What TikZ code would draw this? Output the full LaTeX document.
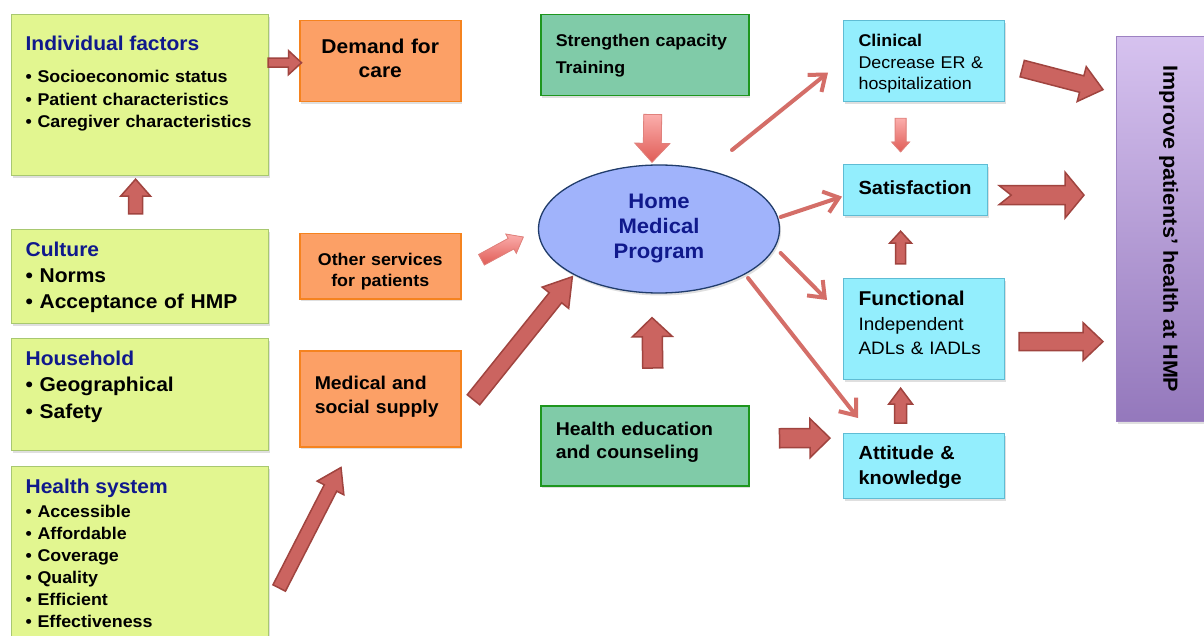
\documentclass[tikz,border=0pt]{standalone}
\usepackage{fontspec}
\setmainfont[FakeStretch=1.05]{Liberation Sans}
\usepackage{graphicx}
\usetikzlibrary{arrows.meta,calc,shapes.geometric,shadows}
\hyphenpenalty=10000
\exhyphenpenalty=10000
\definecolor{factorfill}{HTML}{E2F690}
\definecolor{factorstroke}{HTML}{A8C870}
\definecolor{headblue}{HTML}{10198C}
\definecolor{supplyfill}{HTML}{FCA066}
\definecolor{supplystroke}{HTML}{F5831F}
\definecolor{programfill}{HTML}{80CBA8}
\definecolor{programstroke}{HTML}{1E961E}
\definecolor{outcomefill}{HTML}{93EEFD}
\definecolor{outcomestroke}{HTML}{5FBCD4}
\definecolor{hmpfill}{HTML}{A0B3FB}
\definecolor{hmpstroke}{HTML}{203C6B}
\definecolor{goaltop}{HTML}{D6C2EF}
\definecolor{goalbottom}{HTML}{9478BC}
\definecolor{goalstroke}{HTML}{9D82C2}
\definecolor{arrowfill}{HTML}{CB6460}
\definecolor{arrowstroke}{HTML}{A0443F}
\definecolor{softtop}{HTML}{FBAEAC}
\definecolor{softbottom}{HTML}{E05C56}
\definecolor{softstroke}{HTML}{E0817C}
\definecolor{linkred}{HTML}{D46E68}
\tikzset{
  boxshadow/.style={drop shadow={shadow xshift=1.5pt, shadow yshift=-2.5pt, opacity=0.25}},
  factor/.style={
    rectangle, draw=factorstroke, fill=factorfill, line width=1.2pt, boxshadow,
    anchor=north west, align=left, inner xsep=14pt, inner ysep=0pt, text width=229pt,
    font=\bfseries\fontsize{20}{26}\selectfont
  },
  supply/.style={
    rectangle, draw=supplystroke, fill=supplyfill, line width=1.5pt, boxshadow,
    anchor=north west, inner xsep=8pt, inner ysep=0pt, text width=145pt,
    font=\bfseries
  },
  program/.style={
    rectangle, draw=programstroke, fill=programfill, line width=1.5pt, boxshadow,
    anchor=north west, align=left, inner xsep=15pt, inner ysep=0pt, text width=178pt,
    font=\bfseries
  },
  outcome/.style={
    rectangle, draw=outcomestroke, fill=outcomefill, line width=1.2pt, boxshadow,
    anchor=north west, align=left, inner xsep=15pt, inner ysep=0pt, text width=131pt,
    font=\bfseries
  },
  hmpnode/.style={
    ellipse, draw=hmpstroke, fill=hmpfill, line width=1.3pt, boxshadow,
    minimum width=241pt, minimum height=128pt, align=center, text=headblue,
    font=\bfseries\fontsize{21}{25}\selectfont
  },
  goal/.style={
    rectangle, draw=goalstroke, top color=goaltop, bottom color=goalbottom,
    line width=1.2pt, boxshadow, anchor=north west,
    minimum width=104pt, minimum height=385pt, font=\bfseries\fontsize{20.5}{24}\selectfont
  },
  blockarrow/.style={fill=arrowfill, draw=arrowstroke, line width=1.5pt, line join=miter},
  softarrow/.style={top color=softtop, bottom color=softbottom, draw=softstroke, line width=0.8pt},
  link/.style={
    draw=linkred, line width=4pt, line cap=round,
    -{Straight Barb[length=14pt,width=22pt]}
  }
}
\newcommand{\factorhead}[1]{{\color{headblue}\fontsize{20}{24}\selectfont #1}}
% block arrow: [style]{tail}{tip}{half shaft}{half head}{head length}
\newcommand{\blockarrow}[6][]{%
  \path (#2) coordinate (ba-tail) (#3) coordinate (ba-tip);
  \coordinate (ba-neck) at ($(ba-tip)!#6!(ba-tail)$);
  \draw[blockarrow,#1] ($(ba-tail)!#4!90:(ba-tip)$) -- ($(ba-neck)!#4!90:(ba-tip)$)
    -- ($(ba-neck)!#5!90:(ba-tip)$) -- (ba-tip) -- ($(ba-neck)!#5!-90:(ba-tip)$)
    -- ($(ba-neck)!#4!-90:(ba-tip)$) -- ($(ba-tail)!#4!-90:(ba-tip)$) -- cycle;
}
% same, with a notch cut into the tail
\newcommand{\notchedarrow}[7][]{%
  \path (#2) coordinate (ba-tail) (#3) coordinate (ba-tip);
  \coordinate (ba-neck) at ($(ba-tip)!#6!(ba-tail)$);
  \draw[blockarrow,#1] ($(ba-tail)!#4!90:(ba-tip)$) -- ($(ba-neck)!#4!90:(ba-tip)$)
    -- ($(ba-neck)!#5!90:(ba-tip)$) -- (ba-tip) -- ($(ba-neck)!#5!-90:(ba-tip)$)
    -- ($(ba-neck)!#4!-90:(ba-tip)$) -- ($(ba-tail)!#4!-90:(ba-tip)$)
    -- ($(ba-tail)!#7!(ba-tip)$) -- cycle;
}

\begin{document}
\begin{tikzpicture}[x=1pt,y=-1pt]
  \useasboundingbox (0,0) rectangle (1204,636);
  \fill[white] (0,0) rectangle (1204,636);

  % Determinants
  \node[factor, text height=36pt, text depth=125pt,
        font=\bfseries\fontsize{17}{22.5}\selectfont] (indiv) at (11,14)
    {\factorhead{Individual factors}\\[9.5pt]
     • Socioeconomic status\\
     • Patient characteristics\\
     • Caregiver characteristics};
  \node[factor, text height=27pt, text depth=67pt] (culture) at (11,229)
    {\factorhead{Culture}\\
     • Norms\\
     • Acceptance of HMP};
  \node[factor, text height=27pt, text depth=85pt] (household) at (11,338)
    {\factorhead{Household}\\
     • Geographical\\[1pt]
     • Safety};
  \node[factor, text height=27pt, text depth=148pt,
        font=\bfseries\fontsize{17}{22}\selectfont] (healthsys) at (11,466)
    {\factorhead{Health system}\\[2pt]
     • Accessible\\
     • Affordable\\
     • Coverage\\
     • Quality\\
     • Efficient\\
     • Effectiveness};

  % Demand and supply
  \node[supply, align=center, text height=33pt, text depth=48pt,
        font=\bfseries\fontsize{20}{24}\selectfont] (demand) at (299,20)
    {Demand for\\care};
  \node[supply, align=center, text height=32pt, text depth=33pt,
        font=\bfseries\fontsize{17}{21}\selectfont] (others) at (299,233)
    {Other services\\for patients};
  \node[supply, align=left, inner xsep=15pt, text width=131pt, text height=39pt, text depth=57pt,
        font=\bfseries\fontsize{18.5}{24}\selectfont] (medsupply) at (299,350)
    {Medical and\\social supply};

  % Programme
  \node[program, text height=32pt, text depth=49pt,
        font=\bfseries\fontsize{17}{27}\selectfont] (strength) at (540,14)
    {Strengthen capacity\\Training};
  \node[program, text height=30pt, text depth=50pt,
        font=\bfseries\fontsize{18.5}{23}\selectfont] (healthed) at (540,405)
    {Health education\\and counseling};
  \node[hmpnode] (hmp) at (659,229) {Home\\Medical\\Program};

  % Outcomes
  \node[outcome, text height=26pt, text depth=55pt,
        font=\fontsize{17}{21.5}\selectfont] (clinical) at (843,20)
    {\textbf{Clinical}\\Decrease ER \&\\hospitalization};
  \node[outcome, text width=114pt, text height=30pt, text depth=21pt,
        font=\bfseries\fontsize{19}{23}\selectfont] (satisf) at (843,164)
    {Satisfaction};
  \node[outcome, text height=27pt, text depth=74pt,
        font=\fontsize{18}{24}\selectfont] (functional) at (843,278)
    {{\bfseries\fontsize{20}{24}\selectfont Functional}\\[1pt]
     Independent\\ADLs \& IADLs};
  \node[outcome, text height=26pt, text depth=39pt,
        font=\bfseries\fontsize{19}{25}\selectfont] (attitude) at (843,433)
    {Attitude \&\\knowledge};
  \node[goal] (improve) at (1116,36)
    {\rotatebox{-90}{Improve patients’ health at HMP}};

  % Block arrows between the boxes
  \blockarrow{$(indiv.east)+(-1,-32.5)$}{$(demand.west)+(2.5,1.5)$}{4.5pt}{12pt}{13pt}
  \blockarrow{$(culture.north)+(-4.5,-15)$}{$(indiv.south)+(-4.5,3)$}{7pt}{15pt}{17pt}
  \blockarrow{$(healthsys.north east)+(10,122)$}{$(medsupply.south west)+(42,20)$}{7pt}{15pt}{23pt}
  \blockarrow{$(medsupply.east)+(12,1)$}{$(hmp.south west)+(-1,2)$}{8pt}{17pt}{27pt}
  \blockarrow[softarrow]{$(others.east)+(20,-6.5)$}{$(hmp.west)+(-14.5,8)$}{6pt}{11pt}{14pt}
  \blockarrow[softarrow]{$(strength.south)+(8,18)$}{$(hmp.north)+(-7,-2)$}{9pt}{17.5pt}{19pt}
  \blockarrow{$(healthed.north)+(8,-37)$}{$(hmp.south)+(-7,24)$}{10pt}{20pt}{19pt}
  \blockarrow{$(healthed.east)+(30,-7.5)$}{$(attitude.west)+(-13,-28)$}{9.5pt}{19.5pt}{20pt}
  \blockarrow[softarrow]{$(clinical.south)+(-23.5,16)$}{$(satisf.north)+(-15,-12)$}{5.5pt}{9pt}{10pt}
  \blockarrow{$(functional.north)+(-23.5,-14)$}{$(satisf.south)+(-15,15)$}{5pt}{11pt}{12pt}
  \blockarrow{$(attitude.north)+(-23.5,-10)$}{$(functional.south)+(-23.5,8)$}{6pt}{12pt}{16pt}

  % Outcomes into the goal
  \blockarrow{$(clinical.east)+(17,7.5)$}{$(improve.west)+(-13,-139.5)$}{8.5pt}{18pt}{22pt}
  \notchedarrow{$(satisf.east)+(11,5)$}{$(improve.west)+(-32,-34)$}{9.5pt}{23pt}{19pt}{12pt}
  \blockarrow{$(functional.east)+(14,12.5)$}{$(improve.west)+(-13,112.5)$}{9pt}{19pt}{20pt}

  % Effects of the programme
  \draw[link] ($(hmp.center)+(73,-79)$) -- ($(clinical.west)+(-15,11.5)$);
  \draw[link] ($(hmp.east)+(0.5,-12)$) -- ($(satisf.west)+(-1,6.5)$);
  \draw[link] ($(hmp.east)+(0.5,24)$) -- ($(functional.north west)+(-16,22)$);
  \draw[link] ($(hmp.center)+(89,49)$) -- ($(attitude.north west)+(15,-15)$);
\end{tikzpicture}
\end{document}
